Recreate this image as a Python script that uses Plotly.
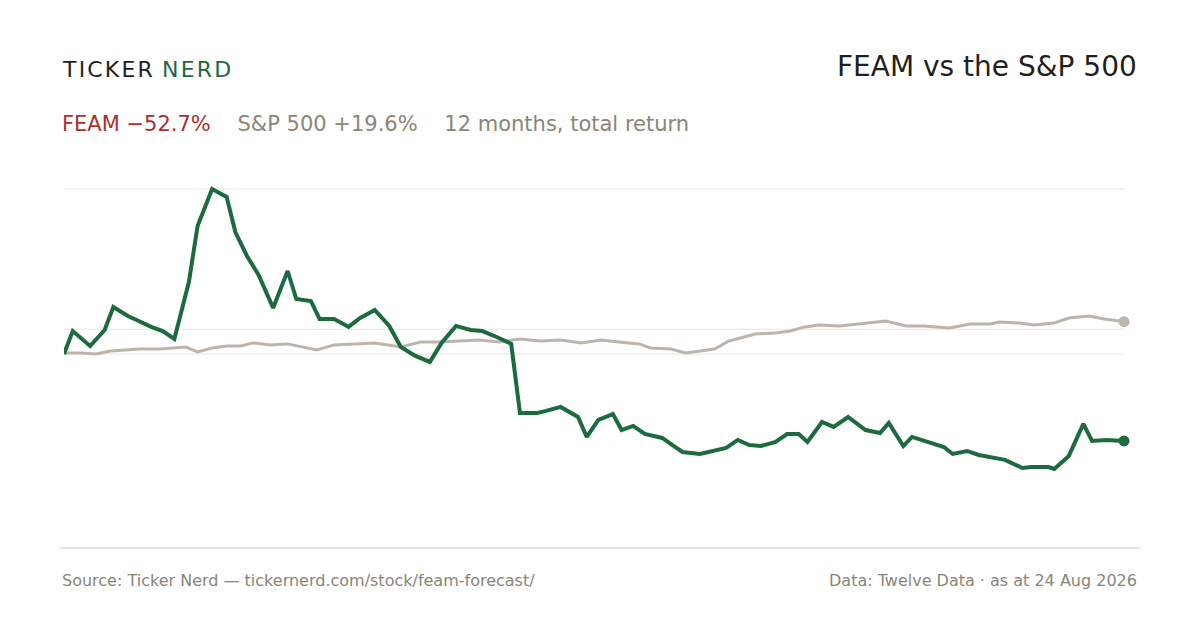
import plotly.graph_objects as go

# FEAM total return (%), day index over 12 months
feam_days = [0, 3, 9, 14, 17, 22, 25, 30, 34, 38, 43, 46, 51, 56, 59, 63, 67, 72, 77, 80, 85, 88, 93, 98,
             102, 107, 112, 116, 121, 126, 130, 135, 140, 144, 149, 154, 157, 163, 166, 171, 177, 180, 184,
             189, 192, 196, 200, 206, 210, 213, 219, 226, 228, 232, 236, 240, 245, 249, 253, 256, 261, 265,
             270, 276, 281, 284, 289, 292, 297, 303, 306, 311, 315, 324, 330, 333, 339, 341, 346, 351, 354,
             359, 365]
feam_ret = [0, 13.9, 4.8, 14.5, 28.5, 23.0, 20.6, 16.4, 13.9, 9.1, 43.6, 77.6, 100, 95.2, 73.9, 59.4, 47.9,
            27.9, 50.3, 33.3, 32.1, 21.2, 21.2, 16.4, 21.8, 26.7, 17.0, 4.2, -1.2, -4.8, 6.7, 17.0, 14.5, 13.9,
            10.3, 6.1, -35.8, -35.8, -34.5, -32.1, -38.2, -50.3, -40.0, -36.4, -46.1, -43.6, -48.5, -50.9,
            -55.8, -59.4, -60.6, -57.6, -57.0, -52.1, -55.2, -55.8, -53.3, -48.5, -48.5, -53.3, -41.2, -44.2,
            -38.2, -46.1, -47.9, -41.8, -55.8, -50.3, -53.3, -56.4, -60.6, -58.8, -61.2, -64.2, -69.1, -68.5,
            -68.5, -69.7, -61.8, -42.4, -52.7, -52.1, -52.7]

# S&P 500 total return (%)
spx_days = [0, 6, 11, 16, 21, 26, 33, 42, 46, 51, 56, 61, 65, 71, 77, 82, 87, 93, 100, 107, 116, 123, 129,
            136, 143, 150, 157, 164, 171, 178, 185, 191, 198, 202, 209, 214, 219, 224, 229, 234, 238, 245,
            250, 255, 260, 267, 274, 283, 290, 296, 305, 312, 319, 322, 329, 334, 341, 346, 353, 358, 365]
spx_ret = [0.6, 0.6, 0, 1.8, 2.4, 3.0, 3.0, 4.2, 1.2, 3.6, 4.8, 4.8, 6.7, 5.5, 6.1, 4.2, 2.4, 5.5, 6.1, 6.7,
           4.2, 7.3, 7.3, 7.9, 8.5, 7.3, 9.1, 7.9, 8.5, 6.7, 8.5, 7.3, 6.1, 3.6, 3.0, 0.6, 1.8, 3.0, 7.9,
           10.3, 12.1, 12.7, 13.9, 16.4, 17.6, 17.0, 18.2, 20.0, 17.0, 17.0, 15.8, 18.2, 18.2, 19.4, 18.8,
           17.6, 18.8, 21.8, 23.0, 21.2, 19.6]

gridlines = [100, 15, 0]

GREEN = "#1b6b3f"
GREY = "#bdb5ab"
TXT = "#8a8577"
FONT = "DejaVu Sans"

fig = go.Figure()
for g in gridlines:
    fig.add_shape(type="line", xref="x", yref="y", x0=0, x1=365, y0=g, y1=g,
                  line=dict(color="#e8e5df", width=1), layer="below")
fig.add_trace(go.Scatter(x=spx_days, y=spx_ret, mode="lines", line=dict(color=GREY, width=3), cliponaxis=False))
fig.add_trace(go.Scatter(x=[spx_days[-1]], y=[spx_ret[-1]], mode="markers", marker=dict(color=GREY, size=11), cliponaxis=False))
fig.add_trace(go.Scatter(x=feam_days, y=feam_ret, mode="lines", line=dict(color=GREEN, width=4), cliponaxis=False))
fig.add_trace(go.Scatter(x=[feam_days[-1]], y=[feam_ret[-1]], mode="markers", marker=dict(color=GREEN, size=11), cliponaxis=False))

# page is offset by the 8px body margin, so work in screen coords minus 8
OFF = 8
L, R, T, B = 64 - OFF, 1200 - 1124 + OFF, 170 - OFF, 630 - 548 + OFF
pw, ph = 1200 - L - R, 630 - T - B

def px(x):
    return (x - OFF - L) / pw

def py(y):
    return (630 - B - (y - OFF)) / ph

fig.add_shape(type="line", xref="paper", yref="paper", x0=px(60), x1=px(1140), y0=py(548), y1=py(548),
              line=dict(color="#dcd8cf", width=1.5))

logo = "&#8202;".join("TICKER") + "&#8202;&nbsp;<span style='color:%s'>%s</span>" % (GREEN, "&#8202;".join("NERD"))
ann = [
    dict(x=60, y=70, text=logo, size=22, color="#1f1f1f", xa="left"),
    dict(x=1139, y=67, text="FEAM vs the S&P 500", size=28, color="#1f1f1f", xa="right"),
    dict(x=60, y=124, text="<span style='color:#a8322a'>FEAM −52.7%</span>&nbsp;&nbsp;&nbsp;&nbsp;S&P 500 +19.6%&nbsp;&nbsp;&nbsp;&nbsp;12 months, total return",
         size=21, color=TXT, xa="left"),
    dict(x=60, y=580, text="Source: Ticker Nerd — tickernerd.com/stock/feam-forecast/", size=16, color=TXT, xa="left"),
    dict(x=1139, y=580, text="Data: Twelve Data · as at 24 Aug 2026", size=16, color=TXT, xa="right"),
]
for a in ann:
    fig.add_annotation(x=px(a["x"]), y=py(a["y"]), xref="paper", yref="paper",
                       text=a["text"], showarrow=False, xanchor=a["xa"], yanchor="middle",
                       font=dict(family=FONT, size=a["size"], color=a["color"]))

fig.update_layout(
    width=1200, height=630, paper_bgcolor="white", plot_bgcolor="white",
    margin=dict(l=L, r=R, t=T, b=B), showlegend=False,
    xaxis=dict(range=[0, 365], visible=False),
    yaxis=dict(range=[-117.6, 111.5], visible=False),
)
fig.write_html("out.html")
